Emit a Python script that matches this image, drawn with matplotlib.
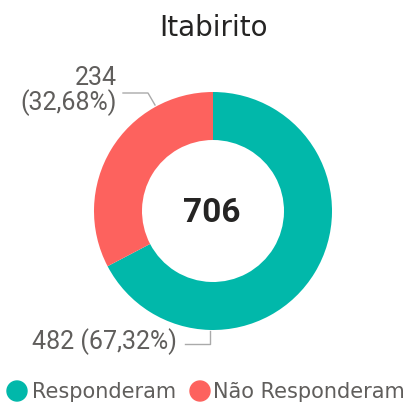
import matplotlib.pyplot as plt
from matplotlib.patches import Circle

# data
labels = ['Responderam', 'Não Responderam']
values = [482, 234]
pct_text = ['67,32%', '32,68%']
center_value = '706'  # as printed on the card
colors = ['#01B8AA', '#FD625E']

W, H = 413, 406
fig = plt.figure(figsize=(W / 100, H / 100), dpi=100)
ax = fig.add_axes([0, 0, 1, 1])

# donut, drawn in pixel coordinates (y up)
cx, cy = 213, H - 212
ax.pie(values, colors=colors, startangle=90, counterclock=False,
       center=(cx, cy), radius=119,
       wedgeprops=dict(width=48, edgecolor='none'))
ax.set_xlim(0, W)
ax.set_ylim(0, H)
ax.set_aspect('auto')
ax.axis('off')

num_font = ['Roboto', 'DejaVu Sans']
grey = '#605E5C'

ax.text(cx, H - 28, 'Itabirito', ha='center', va='center',
        fontsize=20, color='#252423', family='DejaVu Sans')
ax.text(cx - 1, H - 213, center_value, ha='center', va='center',
        fontsize=24, fontweight='bold', color='#252423', family=num_font)

# data labels with leader lines
line_c = '#AAAAAA'
ax.text(117, H - 91, '%d\n(%s)' % (values[1], pct_text[1]), ha='right', va='center',
        fontsize=18, color=grey, family=num_font, linespacing=1.0)
ax.plot([123, 148, 155], [H - 94, H - 94, H - 106], color=line_c, lw=1)

ax.text(177, H - 342, '%d (%s)' % (values[0], pct_text[0]), ha='right', va='center',
        fontsize=18, color=grey, family=num_font)
ax.plot([185, 210, 210], [H - 345, H - 345, H - 332], color=line_c, lw=1)

# legend
ly = H - 392
ax.add_patch(Circle((17, ly), 10, color=colors[0]))
ax.text(32, ly, labels[0], ha='left', va='center', fontsize=15, color=grey)
ax.add_patch(Circle((200, ly), 10, color=colors[1]))
ax.text(213, ly, labels[1], ha='left', va='center', fontsize=15, color=grey)

fig.savefig('out.png', dpi=100)
